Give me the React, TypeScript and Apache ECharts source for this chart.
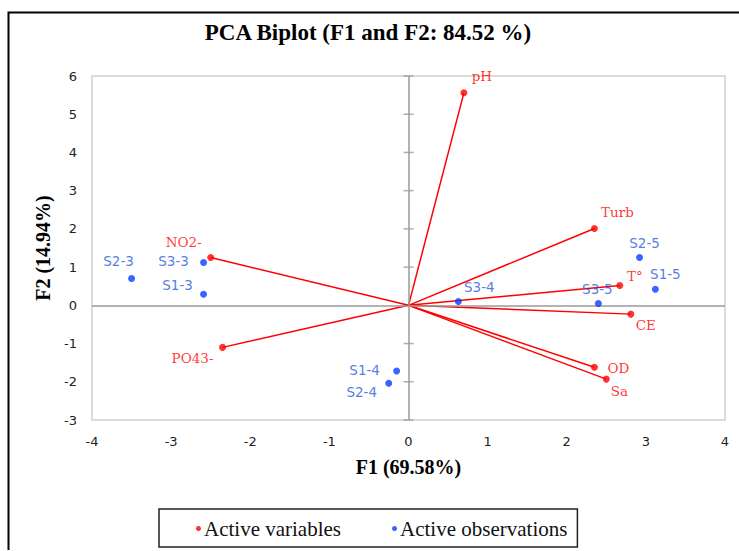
import React, { useEffect, useRef } from "react";
import * as echarts from "echarts";

const titleText = "PCA Biplot (F1 and F2: 84.52 %)";
const xAxisName = "F1 (69.58%)";
const yAxisName = "F2 (14.94%)";

const variableNames = ["pH", "Turb", "T°", "CE", "OD", "Sa", "NO2-", "PO43-"];
const variableF1 = [0.7, 2.35, 2.67, 2.81, 2.35, 2.5, -2.5, -2.35];
const variableF2 = [5.56, 2.01, 0.52, -0.23, -1.62, -1.93, 1.25, -1.1];

const observationNames = ["S2-3", "S3-3", "S1-3", "S3-4", "S3-5", "S2-5", "S1-5", "S1-4", "S2-4"];
const observationF1 = [-3.5, -2.59, -2.59, 0.63, 2.4, 2.92, 3.12, -0.15, -0.25];
const observationF2 = [0.7, 1.12, 0.29, 0.1, 0.05, 1.25, 0.42, -1.72, -2.04];

const yTickValues = [-3, -2, -1, 0, 1, 2, 3, 4, 5, 6];

// label placement (pixel offsets from the point)
const variableLabelOffsets = [
  [18, -17], [23, -17], [15, -9], [15, 11], [24, 1], [13, 12], [-27, -16], [-30, 11],
];
const observationLabelOffsets = [
  [-13, -18], [-30, -2], [-26, -9], [21, -15], [-1, -14], [5, -15], [10, -15], [-32, -1], [-27, 9],
];

const RED = "#ff0000";
const BLUE = "#0a3cff";
const BLUE_TEXT = "#2b5ad8";

export default function App() {
  const ref = useRef<HTMLDivElement>(null);

  useEffect(() => {
    if (!ref.current) return;
    const chart = echarts.init(ref.current, null, { renderer: "svg" });

    const vectorSeries = variableNames.map((n, i) => ({
      type: "line",
      name: "vec-" + n,
      data: [
        [0, 0],
        [variableF1[i], variableF2[i]],
      ],
      showSymbol: false,
      symbol: "none",
      silent: true,
      lineStyle: { color: RED, width: 1.5 },
      z: 3,
    }));

    const option: any = {
      animation: false,
      backgroundColor: "#ffffff",
      title: {
        text: titleText,
        left: 363,
        textAlign: "center",
        top: 16,
        textStyle: {
          fontFamily: "Liberation Serif",
          fontWeight: "bold",
          fontSize: 23,
          color: "#000",
        },
      },
      legend: {
        data: [
          { name: "Active variables", icon: "circle", itemStyle: { color: RED } },
          { name: "Active observations", icon: "circle", itemStyle: { color: BLUE } },
        ],
        left: 159,
        top: 509,
        itemWidth: 5,
        itemHeight: 5,
        itemGap: 51,
        padding: [9, 10, 8, 37],
        borderColor: "#222",
        borderWidth: 1.5,
        textStyle: {
          fontFamily: "Liberation Serif",
          fontSize: 21,
          color: "#111",
          padding: [0, 0, 0, -2],
        },
      },
      grid: {
        left: 92,
        right: 14,
        top: 76,
        bottom: 131,
        show: true,
        borderColor: "#cfcfcf",
        borderWidth: 1.5,
        backgroundColor: "transparent",
      },
      xAxis: {
        type: "value",
        min: -4,
        max: 4,
        interval: 1,
        name: xAxisName,
        nameLocation: "middle",
        nameGap: 37,
        nameTextStyle: {
          fontFamily: "Liberation Serif",
          fontWeight: "bold",
          fontSize: 20,
          color: "#000",
        },
        axisLine: { show: false, onZero: false },
        axisTick: { show: false },
        splitLine: { show: false },
        axisLabel: {
          margin: 15,
          fontFamily: "DejaVu Sans",
          fontSize: 13,
          color: "#222",
        },
      },
      yAxis: {
        type: "value",
        min: -3,
        max: 6,
        interval: 1,
        name: yAxisName,
        nameLocation: "middle",
        nameGap: 38,
        nameRotate: 90,
        nameTextStyle: {
          fontFamily: "Liberation Serif",
          fontWeight: "bold",
          fontSize: 20,
          color: "#000",
        },
        axisLine: { show: false, onZero: false },
        axisTick: { show: false },
        splitLine: { show: false },
        axisLabel: {
          margin: 15,
          fontFamily: "DejaVu Sans",
          fontSize: 13,
          color: "#222",
        },
      },
      graphic: [
        {
          type: "polyline",
          shape: {
            points: [
              [8.5, 550],
              [8.5, 12.5],
              [739, 12.5],
            ],
          },
          style: { stroke: "#000", lineWidth: 2, fill: "none" },
          silent: true,
        },
      ],
      series: [
        {
          type: "scatter",
          name: "zero-axes",
          data: [],
          silent: true,
          markLine: {
            silent: true,
            symbol: "none",
            label: { show: false },
            lineStyle: { color: "#9a9a9a", width: 1.5, type: "solid" },
            data: [{ xAxis: 0 }, { yAxis: 0 }],
          },
          z: 1,
        },
        {
          type: "scatter",
          name: "y-ticks",
          data: yTickValues.map((v) => [0, v]),
          symbol: "rect",
          symbolSize: [10, 1.5],
          itemStyle: { color: "#9a9a9a" },
          silent: true,
          z: 1,
        },
        ...vectorSeries,
        {
          type: "scatter",
          name: "Active variables",
          symbolSize: 7,
          itemStyle: { color: RED },
          z: 5,
          data: variableNames.map((n, i) => ({
            name: n,
            value: [variableF1[i], variableF2[i]],
            label: {
              show: true,
              position: "inside",
              offset: variableLabelOffsets[i],
              formatter: n,
              color: RED,
              fontFamily: "DejaVu Serif",
              fontSize: 13.5,
            },
          })),
        },
        {
          type: "scatter",
          name: "Active observations",
          symbolSize: 7,
          itemStyle: { color: BLUE },
          z: 5,
          data: observationNames.map((n, i) => ({
            name: n,
            value: [observationF1[i], observationF2[i]],
            label: {
              show: true,
              position: "inside",
              offset: observationLabelOffsets[i],
              formatter: n,
              color: BLUE_TEXT,
              fontFamily: "DejaVu Sans",
              fontSize: 13.5,
            },
          })),
        },
      ],
    };

    chart.setOption(option);
    return () => chart.dispose();
  }, []);

  return (
    <div
      ref={ref}
      style={{ position: "fixed", left: 0, top: 0, width: 739, height: 551, background: "#fff" }}
    />
  );
}
